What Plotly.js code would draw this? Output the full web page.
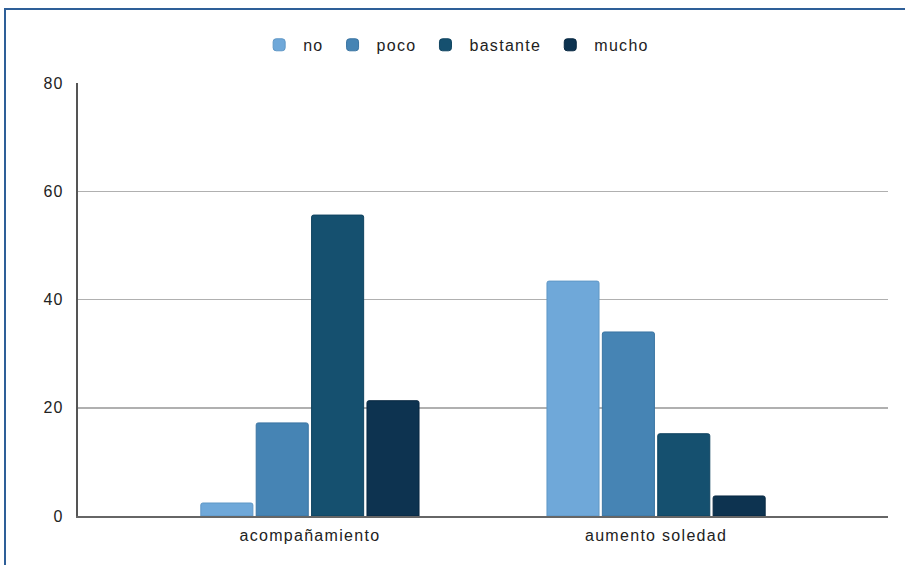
<!DOCTYPE html>
<html>
<head>
<meta charset="utf-8">
<script src="https://cdn.plot.ly/plotly-3.0.1.min.js"></script>
<style>
  html, body { margin: 0; padding: 0; background: #fff; }
  #wrap { position: relative; width: 905px; height: 565px; overflow: hidden; }
  #chart { width: 905px; height: 565px; }
  #frame { position: absolute; left: 4px; top: 8px; width: 960px; height: 620px;
           border: 2px solid #2e5f98; pointer-events: none; }
  .xtick text, .ytick text { letter-spacing: 1.3px; }
  text.legendtext { letter-spacing: 1.3px; }
</style>
</head>
<body>
<div id="wrap">
  <div id="chart"></div>
  <div id="frame"></div>
</div>
<script>
const categories = ["acompañamiento", "aumento soledad"];
const seriesNames = ["no", "poco", "bastante", "mucho"];
const valuesNo = [2.4, 43.4];
const valuesPoco = [17.2, 34.0];
const valuesBastante = [55.6, 15.2];
const valuesMucho = [21.3, 3.7];
const tickValues = [0, 20, 40, 60, 80];

const colors = ["#6fa8d9", "#4684b4", "#15506f", "#0d3350"];
const lineColors = ["#5f97c6", "#3a74a2", "#0f4360", "#082842"];
const allValues = [valuesNo, valuesPoco, valuesBastante, valuesMucho];

const data = seriesNames.map((name, i) => ({
  type: "bar",
  name: name,
  x: categories,
  y: allValues[i],
  marker: { color: colors[i], line: { color: lineColors[i], width: 1 } },
  hoverinfo: "skip"
}));

const layout = {
  width: 905,
  height: 565,
  margin: { l: 78, r: 17, t: 83, b: 49 },
  paper_bgcolor: "#ffffff",
  plot_bgcolor: "#ffffff",
  font: { family: "Liberation Sans, Arial, sans-serif", size: 16, color: "#222" },
  barmode: "group",
  bargap: 0.36,
  bargroupgap: 0.06,
  barcornerradius: 2,
  showlegend: true,
  legend: {
    orientation: "h",
    x: 0.465, xanchor: "center",
    y: 1.088, yanchor: "middle",
    itemwidth: 38,
    font: { size: 16, color: "#222" },
    itemclick: false
  },
  xaxis: {
    type: "category",
    range: [-0.67, 1.67],
    showgrid: false,
    showline: true,
    linecolor: "#666",
    linewidth: 2,
    ticks: "outside",
    ticklen: 4,
    tickcolor: "rgba(0,0,0,0)",
    tickfont: { size: 16, color: "#222" },
    zeroline: false
  },
  yaxis: {
    range: [0, 80],
    tickvals: tickValues,
    ticktext: tickValues.map(String),
    showgrid: true,
    gridcolor: "#b0b0b0",
    gridwidth: 1.5,
    showline: true,
    linecolor: "#555",
    linewidth: 2,
    ticks: "outside",
    ticklen: 9,
    tickcolor: "rgba(0,0,0,0)",
    tickfont: { size: 16, color: "#222" },
    zeroline: false
  }
};

Plotly.newPlot("chart", data, layout, { displayModeBar: false, staticPlot: true });
</script>
</body>
</html>
